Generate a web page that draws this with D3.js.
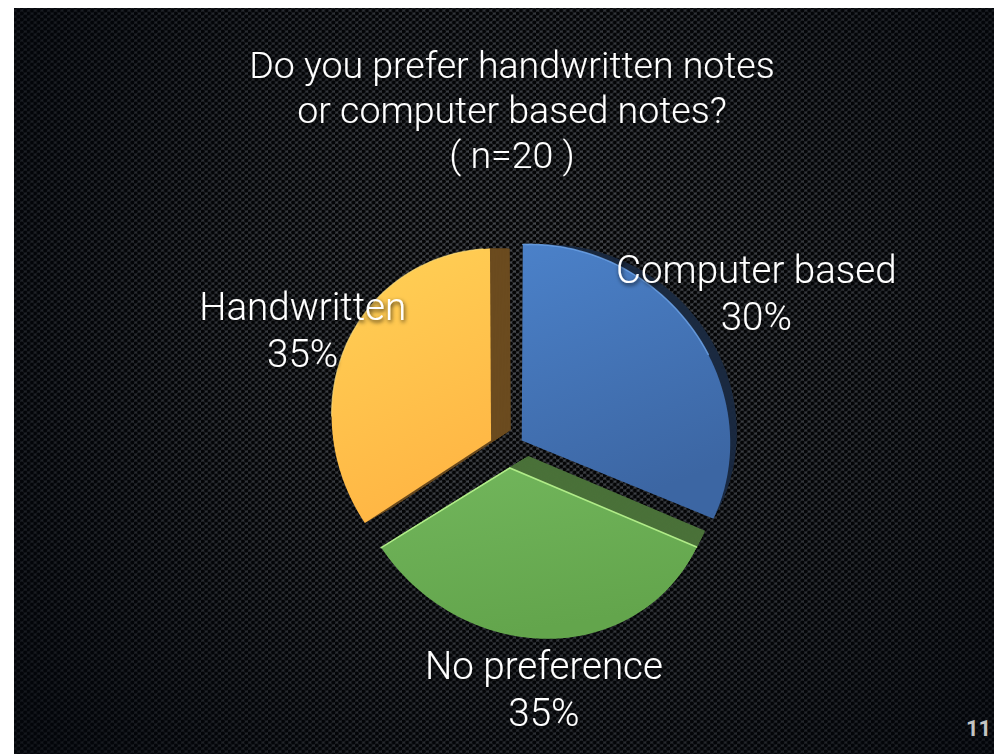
<!DOCTYPE html>
<html>
<head>
<meta charset="utf-8">
<script src="https://cdn.jsdelivr.net/npm/d3@7"></script>
<style>
body { margin:0; background:#fff; }
svg { display:block; }
text { font-family: Roboto, "Liberation Sans", sans-serif; }
</style>
</head>
<body>
<script>
// data
var categories = ["Computer based", "No preference", "Handwritten"];
var percents = [30, 35, 35];
var titleLines = ["Do you prefer handwritten notes", "or computer based notes?", "( n=20 )"];
var slideNumber = "11";

// styles
var frontTop = ["#4b81c9", "#72b65c", "#ffd257"];
var frontBottom = ["#3c66a3", "#63a54c", "#ffb644"];
var sideColor = ["#1b2a40", "#4a7139", "#6b4b1f"];

var W = 994, H = 754;
var svg = d3.select("body").append("svg").attr("width", W).attr("height", H);
var defs = svg.append("defs");

// perforated metal background
var pat = defs.append("pattern").attr("id", "holes").attr("patternUnits", "userSpaceOnUse")
    .attr("width", 6.7).attr("height", 6);
pat.append("rect").attr("width", 6.7).attr("height", 6).attr("fill", "#4b4e53");
[[1.675, 1.5], [5.025, 4.5], [5.025, -1.5], [-1.675, 4.5], [8.375, 4.5], [1.675, 7.5]].forEach(function(c) {
  pat.append("circle").attr("cx", c[0]).attr("cy", c[1]).attr("r", 2.05).attr("fill", "#050505");
});

var vig = defs.append("radialGradient").attr("id", "vig")
    .attr("gradientUnits", "userSpaceOnUse").attr("cx", 540).attr("cy", 330).attr("r", 640);
vig.append("stop").attr("offset", 0).attr("stop-color", "#02050b").attr("stop-opacity", 0.0);
vig.append("stop").attr("offset", 0.45).attr("stop-color", "#02050b").attr("stop-opacity", 0.3);
vig.append("stop").attr("offset", 1).attr("stop-color", "#02050b").attr("stop-opacity", 0.75);

svg.append("rect").attr("x", 14).attr("y", 8).attr("width", W - 14).attr("height", H - 8).attr("fill", "url(#holes)");
svg.append("rect").attr("x", 14).attr("y", 8).attr("width", W - 14).attr("height", H - 8).attr("fill", "url(#vig)");

var shadow = defs.append("filter").attr("id", "tshadow").attr("x", "-10%").attr("y", "-30%").attr("width", "120%").attr("height", "160%");
shadow.append("feDropShadow").attr("dx", 1).attr("dy", 2).attr("stdDeviation", 2)
    .attr("flood-color", "#000").attr("flood-opacity", 0.8);

frontTop.forEach(function(c, i) {
  var g = defs.append("linearGradient").attr("id", "grad" + i).attr("x1", 0).attr("y1", 0).attr("x2", 0.3).attr("y2", 1);
  g.append("stop").attr("offset", 0).attr("stop-color", c);
  g.append("stop").attr("offset", 1).attr("stop-color", frontBottom[i]);
});

// tilted 3D-ish projection of the pie plane (radius 1)
var proj = {sx: 507, sy: 450, k: 180, a: -0.113, b: 0.066, s: 0.09, explode: 0.1};
function project(x, y) {
  var den = 1 + proj.a * x + proj.b * y;
  return [proj.sx + proj.k * x / den, proj.sy + proj.k * (y + proj.s * x) / den];
}
var vanish = [850, 250], depth = 0.055;

var arcs = d3.pie().sort(null).value(function(d) { return d; })(percents);
var line = d3.line().curve(d3.curveLinearClosed);

function slicePoints(d) {
  var mid = (d.startAngle + d.endAngle) / 2;
  var cx = proj.explode * Math.sin(mid), cy = -proj.explode * Math.cos(mid);
  var pts = [project(cx, cy)];
  d3.range(0, 61).forEach(function(t) {
    var ang = d.startAngle + (d.endAngle - d.startAngle) * t / 60;
    pts.push(project(cx + Math.sin(ang), cy - Math.cos(ang)));
  });
  return pts;
}

// side walls: stacked copies shrinking toward the vanishing point
var sides = svg.append("g");
d3.range(14, 0, -1).forEach(function(step) {
  var sc = 1 - depth * step / 14;
  sides.append("g")
    .attr("transform", "translate(" + vanish[0] * (1 - sc) + "," + vanish[1] * (1 - sc) + ") scale(" + sc + ")")
    .selectAll("path").data(arcs).join("path")
      .attr("d", function(d) { return line(slicePoints(d)); })
      .attr("fill", function(d, i) { return sideColor[i]; });
});

// front faces
svg.append("g").selectAll("path").data(arcs).join("path")
  .attr("d", function(d) { return line(slicePoints(d)); })
  .attr("fill", function(d, i) { return "url(#grad" + i + ")"; });

// bevel highlights
var hl = svg.append("g").attr("fill", "none").attr("stroke-linecap", "round");
var bluePts = slicePoints(arcs[0]);
hl.append("path").attr("d", d3.line()(bluePts.slice(1, 36))).attr("stroke", "#6fa6ec").attr("stroke-width", 1.5).attr("opacity", 0.8);
var greenPts = slicePoints(arcs[1]);
hl.append("path").attr("d", d3.line()([greenPts[greenPts.length - 1], greenPts[0], greenPts[1]]))
  .attr("stroke", "#b9f58f").attr("stroke-width", 1.6).attr("opacity", 0.9);
var yellowPts = slicePoints(arcs[2]);
hl.append("path").attr("d", d3.line()(yellowPts.slice(20, 61))).attr("stroke", "#ffe07a").attr("stroke-width", 1.2).attr("opacity", 0.7);

// labels
var labels = svg.append("g").attr("filter", "url(#tshadow)").attr("fill", "#fff")
  .attr("font-size", 38.5).attr("font-weight", 300).attr("text-anchor", "middle");
arcs.forEach(function(d, i) {
  var mid = (d.startAngle + d.endAngle) / 2;
  var r = 1.3;
  var p = project((proj.explode + r) * Math.sin(mid), -(proj.explode + r) * Math.cos(mid));
  var t = labels.append("text").attr("x", p[0]).attr("y", p[1] - 8);
  t.append("tspan").attr("x", p[0]).text(categories[i]);
  t.append("tspan").attr("x", p[0]).attr("dy", 47).text(d3.format(".0f")(percents[i]) + "%");
});

// title
svg.append("g").attr("filter", "url(#tshadow)").selectAll("text").data(titleLines).join("text")
  .attr("x", 512).attr("y", function(d, i) { return 78 + i * 45; })
  .attr("text-anchor", "middle").attr("fill", "#fff").attr("font-size", 37.5).attr("font-weight", 300)
  .text(function(d) { return d; });

svg.append("text").attr("x", 966).attr("y", 736).attr("fill", "#c4c4c4")
  .attr("font-size", 22).attr("font-weight", 700).text(slideNumber);
</script>
</body>
</html>
